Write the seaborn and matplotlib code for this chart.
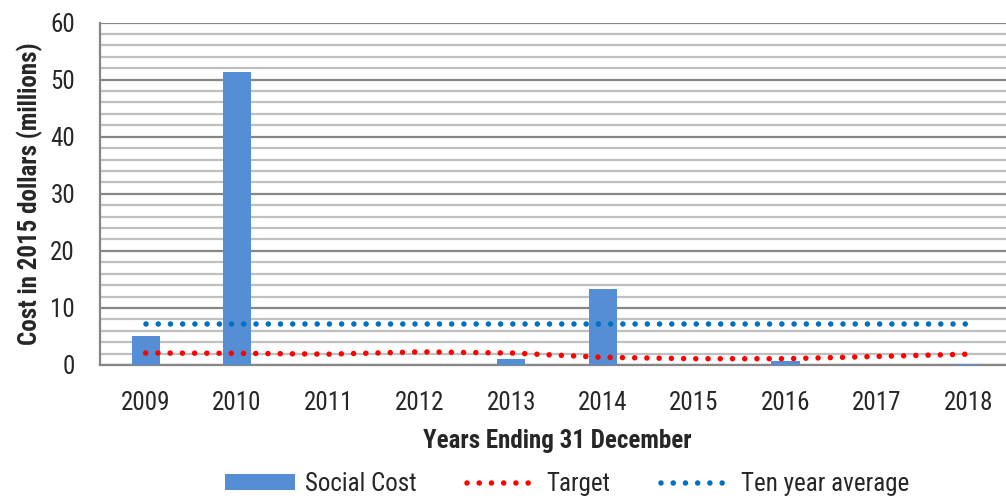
import matplotlib
matplotlib.use("Agg")
import matplotlib.pyplot as plt
import numpy as np
import pandas as pd
import seaborn as sns
from matplotlib.lines import Line2D
from matplotlib.patches import Patch

years = ["2009", "2010", "2011", "2012", "2013", "2014", "2015", "2016", "2017", "2018"]
social_cost = [5.0, 51.3, 0.0, 0.0, 1.0, 13.4, 0.0, 0.65, 0.0, 0.2]
target = [2.1, 2.05, 1.9, 2.3, 2.1, 1.35, 1.1, 1.1, 1.5, 1.9]
ten_year_avg = [7.1] * 10

BAR_C = "#558ED5"
RED = "#FF0000"
BLUE = "#0070C0"
MAJOR = "#868686"
MINOR = "#BFBFBF"

sns.set_style("white")
plt.rcParams["font.family"] = ["Roboto Condensed", "DejaVu Sans"]
FS = 18

df = pd.DataFrame({"year": years, "cost": social_cost,
                   "target": target, "avg": ten_year_avg})

fig = plt.figure(figsize=(10.06, 5.01), dpi=100)
ax = fig.add_axes([100 / 1006, 136 / 501, 914 / 1006, 342.5 / 501])

sns.barplot(data=df, x="year", y="cost", color=BAR_C, width=0.31,
            saturation=1, linewidth=0, ax=ax, zorder=3)

# Excel style round dots
dots = (0, (0.001, 2.2))
pos = np.arange(len(years))
ax.plot(pos, df["target"], color=RED, lw=4, linestyle=dots,
        dash_capstyle="round", zorder=4)
ax.plot(pos, df["avg"], color=BLUE, lw=4, linestyle=dots,
        dash_capstyle="round", zorder=4)

ax.set_xlim(-0.5, 9.5)
ax.set_ylim(0, 60)
ax.set_yticks(np.arange(0, 61, 10))
ax.set_yticks(np.arange(0, 61, 2), minor=True)
ax.grid(axis="y", which="minor", color=MINOR, lw=1.6, zorder=0)
ax.grid(axis="y", which="major", color=MAJOR, lw=1.6, zorder=1)
ax.set_axisbelow(True)

ax.set_xticks(np.arange(-0.5, 9.6, 1), minor=True)
ax.tick_params(axis="x", which="major", length=0, labelsize=FS, pad=19)
ax.tick_params(axis="x", which="minor", length=6, width=1.3, color=MAJOR,
               direction="out")
ax.tick_params(axis="y", which="major", length=5, width=1.3, color=MAJOR,
               labelsize=FS, pad=13)
ax.tick_params(axis="y", which="minor", length=0)

for side in ["top", "right"]:
    ax.spines[side].set_visible(False)
for side in ["left", "bottom"]:
    ax.spines[side].set_color(MAJOR)
    ax.spines[side].set_linewidth(1.6)

ax.set_xlabel("Years Ending 31 December", fontsize=FS, fontweight="bold",
              labelpad=10)
ax.set_ylabel("Cost in 2015 dollars (millions)", fontsize=FS,
              fontweight="bold", labelpad=5)

handles = [
    Patch(facecolor=BAR_C, edgecolor="none"),
    Line2D([], [], color=RED, lw=4, linestyle=dots, dash_capstyle="round"),
    Line2D([], [], color=BLUE, lw=4, linestyle=dots, dash_capstyle="round"),
]
fig.legend(handles, ["Social Cost", "Target", "Ten year average"],
           loc="center", bbox_to_anchor=(567 / 1006, 1 - 484 / 501),
           ncol=3, frameon=False, fontsize=FS, handlelength=2.8,
           handleheight=0.6, handletextpad=0.4, columnspacing=2.0)

fig.savefig("out.png", dpi=100)
